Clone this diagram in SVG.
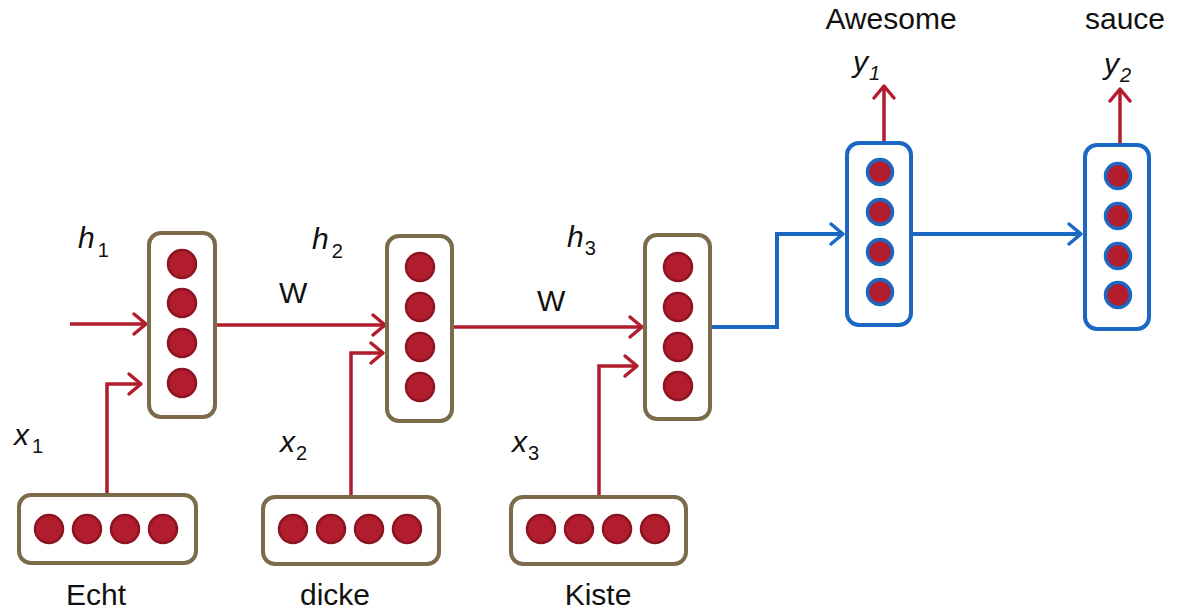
<svg xmlns="http://www.w3.org/2000/svg" width="1183" height="611" viewBox="0 0 1183 611">
<style>
.box{fill:#fff;stroke:#7b6b4b;stroke-width:4}
.bbox{fill:#fff;stroke:#1b67c4;stroke-width:4}
.n{fill:#b21d2e;stroke:#8c1423;stroke-width:2.5}
.bn{fill:#b21d2e;stroke:#1b67c4;stroke-width:3.5}
.r{fill:none;stroke:#b21d2e;stroke-width:3.5}
.b{fill:none;stroke:#1b67c4;stroke-width:4}
.t{font-family:"Liberation Sans",Arial,sans-serif;font-size:30px;fill:#111}
.m{font-family:"Liberation Sans",Arial,sans-serif;font-size:30px;font-style:italic;fill:#111}
.s{font-size:20px;font-style:normal}
.si{font-size:20px}
</style>
<defs>
<marker id="ar" markerUnits="userSpaceOnUse" markerWidth="20" markerHeight="24" refX="14" refY="12" orient="auto" overflow="visible">
<path d="M2,2 L14,12 L2,22" fill="none" stroke="#b21d2e" stroke-width="3.5" stroke-linecap="round" stroke-linejoin="round"/>
</marker>
<marker id="ab" markerUnits="userSpaceOnUse" markerWidth="20" markerHeight="24" refX="14" refY="12" orient="auto" overflow="visible">
<path d="M2,2 L14,12 L2,22" fill="none" stroke="#1b67c4" stroke-width="3.5" stroke-linecap="round" stroke-linejoin="round"/>
</marker>
</defs>
<g id="connectors">
<line class="r" x1="70" y1="324" x2="146" y2="324" marker-end="url(#ar)"/>
<polyline class="r" points="107,495 107,384 141,384" marker-end="url(#ar)"/>
<line class="r" x1="215" y1="325" x2="385" y2="325" marker-end="url(#ar)"/>
<polyline class="r" points="351,497 351,353 383,353" marker-end="url(#ar)"/>
<line class="r" x1="452" y1="327" x2="642" y2="327" marker-end="url(#ar)"/>
<polyline class="r" points="599,497 599,366 637,366" marker-end="url(#ar)"/>
<polyline class="b" points="710,327 777,327 777,234 843,234" marker-end="url(#ab)"/>
<line class="b" x1="911" y1="234" x2="1081" y2="234" marker-end="url(#ab)"/>
<line class="r" x1="884" y1="143" x2="884" y2="86" marker-end="url(#ar)"/>
<line class="r" x1="1120" y1="144" x2="1120" y2="89" marker-end="url(#ar)"/>
</g>
<g id="h1">
<rect class="box" x="149" y="233" width="66" height="184" rx="12"/>
<circle class="n" cx="182" cy="264" r="14"/><circle class="n" cx="182" cy="303" r="14"/><circle class="n" cx="182" cy="343" r="14"/><circle class="n" cx="182" cy="383" r="14"/>
</g>
<g id="h2">
<rect class="box" x="387" y="236" width="65" height="185" rx="12"/>
<circle class="n" cx="420" cy="267" r="14"/><circle class="n" cx="420" cy="307" r="14"/><circle class="n" cx="420" cy="347" r="14"/><circle class="n" cx="420" cy="387" r="14"/>
</g>
<g id="h3">
<rect class="box" x="645" y="235" width="65" height="184" rx="12"/>
<circle class="n" cx="678" cy="267" r="14"/><circle class="n" cx="678" cy="307" r="14"/><circle class="n" cx="678" cy="347" r="14"/><circle class="n" cx="678" cy="386" r="14"/>
</g>
<g id="y1">
<rect class="bbox" x="847" y="143" width="64" height="182" rx="12"/>
<circle class="bn" cx="880" cy="172" r="12.5"/><circle class="bn" cx="880" cy="212" r="12.5"/><circle class="bn" cx="880" cy="252" r="12.5"/><circle class="bn" cx="880" cy="292" r="12.5"/>
</g>
<g id="y2">
<rect class="bbox" x="1085" y="145" width="64" height="184" rx="12"/>
<circle class="bn" cx="1118" cy="176" r="12.5"/><circle class="bn" cx="1118" cy="216" r="12.5"/><circle class="bn" cx="1118" cy="256" r="12.5"/><circle class="bn" cx="1118" cy="295" r="12.5"/>
</g>
<g id="x1">
<rect class="box" x="19" y="495" width="177" height="68" rx="12"/>
<circle class="n" cx="49" cy="529" r="14"/><circle class="n" cx="87" cy="529" r="14"/><circle class="n" cx="125" cy="529" r="14"/><circle class="n" cx="163" cy="529" r="14"/>
</g>
<g id="x2">
<rect class="box" x="263" y="497" width="176" height="67" rx="12"/>
<circle class="n" cx="293" cy="529" r="14"/><circle class="n" cx="331" cy="529" r="14"/><circle class="n" cx="369" cy="529" r="14"/><circle class="n" cx="407" cy="529" r="14"/>
</g>
<g id="x3">
<rect class="box" x="511" y="497" width="175" height="67" rx="12"/>
<circle class="n" cx="541" cy="529" r="14"/><circle class="n" cx="579" cy="529" r="14"/><circle class="n" cx="617" cy="529" r="14"/><circle class="n" cx="655" cy="529" r="14"/>
</g>
<g id="labels">
<text class="t" x="96" y="605" text-anchor="middle">Echt</text>
<text class="t" x="335" y="605" text-anchor="middle">dicke</text>
<text class="t" x="598" y="605" text-anchor="middle">Kiste</text>
<text class="t" x="891" y="29" text-anchor="middle">Awesome</text>
<text class="t" x="1125" y="29" text-anchor="middle">sauce</text>
<text class="t" x="279" y="303">W</text>
<text class="t" x="537" y="311">W</text>
<text class="m" x="78" y="248">h<tspan class="s" dx="3" dy="9">1</tspan></text>
<text class="m" x="312" y="249">h<tspan class="s" dx="3" dy="9">2</tspan></text>
<text class="m" x="567" y="247">h<tspan class="s" dx="1" dy="8">3</tspan></text>
<text class="m" x="14" y="445">x<tspan class="s" dx="3" dy="8">1</tspan></text>
<text class="m" x="280" y="452">x<tspan class="s" dx="1" dy="8">2</tspan></text>
<text class="m" x="512" y="452">x<tspan class="s" dx="1" dy="8">3</tspan></text>
<text class="m" x="853" y="72">y<tspan class="si" dx="1" dy="8">1</tspan></text>
<text class="m" x="1104" y="74">y<tspan class="si" dx="1" dy="8">2</tspan></text>
</g>
</svg>
